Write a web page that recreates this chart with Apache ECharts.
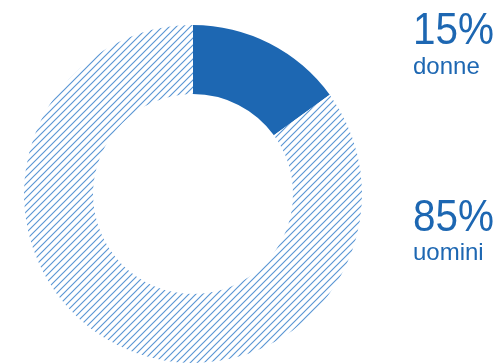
<!DOCTYPE html>
<html>
<head>
<meta charset="utf-8">
<script src="https://cdn.jsdelivr.net/npm/echarts@6/dist/echarts.min.js"></script>
<style>
  html, body { margin: 0; padding: 0; background: #fff; }
  #main { width: 500px; height: 363px; }
</style>
</head>
<body>
<div id="main"></div>
<script>
const categories = ['donne', 'uomini'];
const values = [15, 85];
const percentLabels = ['15%', '85%'];

var chartDom = document.getElementById('main');
var myChart = echarts.init(chartDom);

// diagonal hatch pattern for the larger slice
const makeHatch = () => {
  const s = 7;
  const c = document.createElement('canvas');
  c.width = s; c.height = s;
  const ctx = c.getContext('2d');
  ctx.fillStyle = '#ffffff';
  ctx.fillRect(0, 0, s, s);
  ctx.strokeStyle = '#5a96d4';
  ctx.lineWidth = 1.15;
  ctx.beginPath();
  ctx.moveTo(-1, s + 1); ctx.lineTo(s + 1, -1);
  ctx.moveTo(-1, 1); ctx.lineTo(1, -1);
  ctx.moveTo(s - 1, s + 1); ctx.lineTo(s + 1, s - 1);
  ctx.stroke();
  return c;
};

const blue = '#1d67b2';
// vertical centre of each big percentage and of the word below it
const pctY = [32, 219];
const nameY = [67, 253];

var option = {
  animation: false,
  series: [
    {
      type: 'pie',
      center: [193, 194],
      radius: [100, 169],
      startAngle: 90,
      clockwise: true,
      silent: true,
      label: { show: false },
      labelLine: { show: false },
      data: categories.map((name, i) => ({
        name: name,
        value: values[i],
        itemStyle: i === 0
          ? { color: blue }
          : { color: { image: makeHatch(), repeat: 'repeat' } }
      }))
    }
  ],
  graphic: categories.flatMap((name, i) => [
    {
      type: 'text',
      x: 413,
      y: pctY[i],
      scaleX: 0.92,
      style: {
        text: percentLabels[i],
        font: '44px "Liberation Sans", Arial, sans-serif',
        fill: blue,
        verticalAlign: 'middle'
      }
    },
    {
      type: 'text',
      x: 413,
      y: nameY[i],
      style: {
        text: name,
        font: '24px "Liberation Sans", Arial, sans-serif',
        fill: blue,
        verticalAlign: 'middle'
      }
    }
  ])
};

option && myChart.setOption(option);
</script>
</body>
</html>
